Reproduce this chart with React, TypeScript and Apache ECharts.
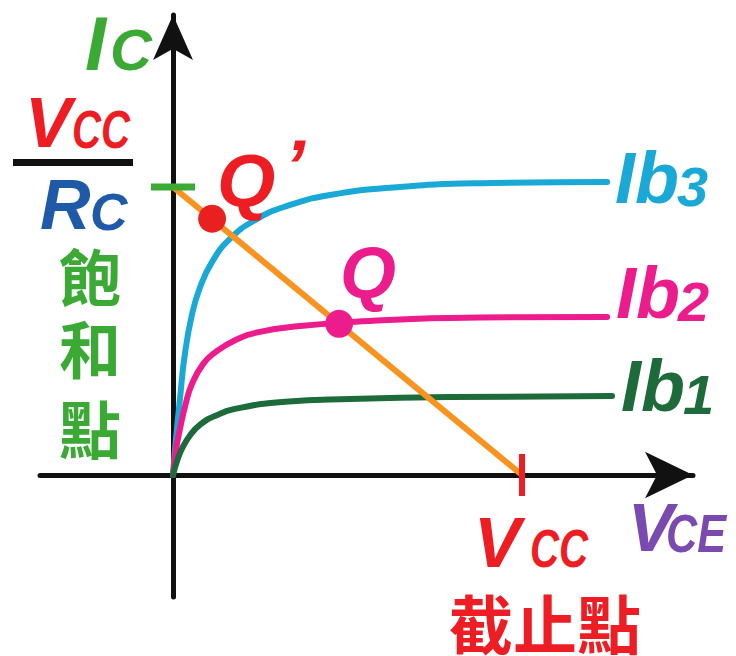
import React, { useEffect, useRef } from 'react';
import * as echarts from 'echarts';

// Output characteristic curves (VCE, Ic) in units where Vcc = 10 and Vcc/Rc = 10
const ib3Curve = [[0, 0], [0.09, 1.3], [0.2, 2.65], [0.34, 4.2], [0.54, 5.55], [0.77, 6.5], [1.12, 7.4], [1.63, 8.2], [2.35, 8.85], [3.21, 9.32], [4.5, 9.72], [6.5, 10.0], [8.8, 10.13], [12.44, 10.17]];
const ib2Curve = [[0, 0], [0.09, 0.9], [0.2, 1.6], [0.37, 2.5], [0.54, 3.15], [0.86, 3.85], [1.2, 4.25], [1.78, 4.68], [2.49, 4.97], [3.64, 5.17], [5.07, 5.31], [7.94, 5.45], [12.44, 5.49]];
const ib1Curve = [[0, 0], [0.12, 0.5], [0.26, 0.92], [0.49, 1.38], [0.77, 1.74], [1.2, 2.05], [1.92, 2.33], [3.21, 2.54], [5.07, 2.64], [7.94, 2.71], [12.58, 2.74]];
const loadLine = [[0, 10], [10, 0]];
const qPrimePoint = [[1.12, 8.9]];
const qPoint = [[4.76, 5.25]];
const saturationMark = [[0, 10]];
const cutoffMark = [[10, 0]];

const X_MIN = -3.811;
const X_MAX = 14.9;
const Y_MIN = -4.236;
const Y_MAX = 15.972;

const LATIN = "'Liberation Sans', Arial, sans-serif";
const CJK = "'Noto Sans CJK TC', 'Noto Sans CJK SC', sans-serif";

function txt(text: string, x: number, y: number, fs: number, color: string, extra: any = {}) {
  return {
    type: 'text',
    x,
    y,
    z: 100,
    scaleX: extra.scaleX ?? 1,
    originX: 0,
    originY: 0,
    style: {
      text,
      fill: color,
      font: `${extra.cjk ? 'normal' : 'italic'} bold ${fs}px ${extra.cjk ? CJK : LATIN}`,
      align: extra.align ?? 'left',
      verticalAlign: 'middle',
    },
  };
}

const GREEN = '#3aaa35';
const RED = '#ee1d23';
const BLUE = '#1e5aa8';
const CYAN = '#1aa9d6';
const PINK = '#ec1c8c';
const DGREEN = '#1d6b3b';
const ORANGE = '#f7931e';
const PURPLE = '#7a4ab0';

export default function App() {
  const ref = useRef<HTMLDivElement>(null);
  useEffect(() => {
    if (!ref.current) return;
    const chart = echarts.init(ref.current, undefined, { renderer: 'svg' });
    const axisCommon = {
      type: 'value',
      axisTick: { show: false },
      axisLabel: { show: false },
      splitLine: { show: false },
    };
    const curve = (data: number[][], color: string) => ({
      type: 'line',
      data,
      smooth: 0.5,
      showSymbol: false,
      symbol: 'none',
      lineStyle: { color, width: 6, cap: 'round', opacity: 1 },
      z: 2,
    });
    const mark = (data: number[][], symbol: string, size: any, color: string, z: number) => ({
      type: 'scatter',
      data,
      symbol,
      symbolSize: size,
      itemStyle: { color, opacity: 1 },
      z,
    });
    chart.setOption({
      animation: false,
      backgroundColor: '#ffffff',
      grid: { left: 40, right: 43, top: 15, bottom: 59 },
      xAxis: {
        ...axisCommon,
        min: X_MIN,
        max: X_MAX,
        axisLine: {
          onZero: true,
          symbol: ['none', 'arrow'],
          symbolSize: [35, 48],
          lineStyle: { color: '#111', width: 5 },
        },
      },
      yAxis: {
        ...axisCommon,
        min: Y_MIN,
        max: Y_MAX,
        axisLine: {
          onZero: true,
          symbol: ['none', 'arrow'],
          symbolSize: [30, 45],
          lineStyle: { color: '#111', width: 5 },
        },
      },
      series: [
        curve(ib3Curve, CYAN),
        curve(ib2Curve, PINK),
        curve(ib1Curve, DGREEN),
        {
          type: 'line',
          data: loadLine,
          showSymbol: false,
          symbol: 'none',
          lineStyle: { color: ORANGE, width: 6 },
          z: 3,
        },
        mark(saturationMark, 'rect', [44, 7], GREEN, 4),
        mark(cutoffMark, 'rect', [6, 42], RED, 4),
        mark(qPrimePoint, 'circle', 28, '#e8201f', 5),
        mark(qPoint, 'circle', 28, PINK, 5),
      ],
      graphic: [
        // Ic
        txt('I', 85, 43, 76, GREEN),
        txt('C', 110, 49, 58, GREEN),
        // Vcc / Rc
        txt('V', 25, 123, 70, RED),
        txt('CC', 72, 129, 53, RED, { scaleX: 0.76 }),
        { type: 'rect', shape: { x: 13, y: 159, width: 120, height: 7 }, style: { fill: '#111' }, z: 100 },
        txt('R', 40, 205, 70, BLUE),
        txt('C', 90, 212, 52, BLUE),
        // 飽和點
        txt('飽', 90, 275, 62, GREEN, { cjk: true, align: 'center' }),
        txt('和', 90, 347, 62, GREEN, { cjk: true, align: 'center' }),
        txt('點', 90, 427, 62, GREEN, { cjk: true, align: 'center' }),
        // Q' and Q
        txt('Q', 217, 180, 75, RED),
        txt('’', 284, 166, 75, RED),
        txt('Q', 340, 273, 72, PINK),
        // Ib labels
        txt('Ib', 615, 178, 72, CYAN),
        txt('3', 677, 186, 56, CYAN),
        txt('Ib', 616, 293, 72, PINK),
        txt('2', 678, 301, 56, PINK),
        txt('Ib', 621, 386, 72, DGREEN),
        txt('1', 683, 394, 56, DGREEN),
        // Vcc on x-axis
        txt('V', 474, 543, 70, RED),
        txt('CC', 530, 548, 53, RED, { scaleX: 0.76 }),
        // VCE
        txt('V', 628, 527, 68, PURPLE),
        txt('CE', 666, 533, 54, PURPLE, { scaleX: 0.8 }),
        // 截止點
        txt('截止點', 545, 621, 64, RED, { cjk: true, align: 'center' }),
      ],
    });
    return () => chart.dispose();
  }, []);
  return (
    <div
      ref={ref}
      style={{ position: 'fixed', left: 0, top: 0, width: 736, height: 656, background: '#fff' }}
    />
  );
}
